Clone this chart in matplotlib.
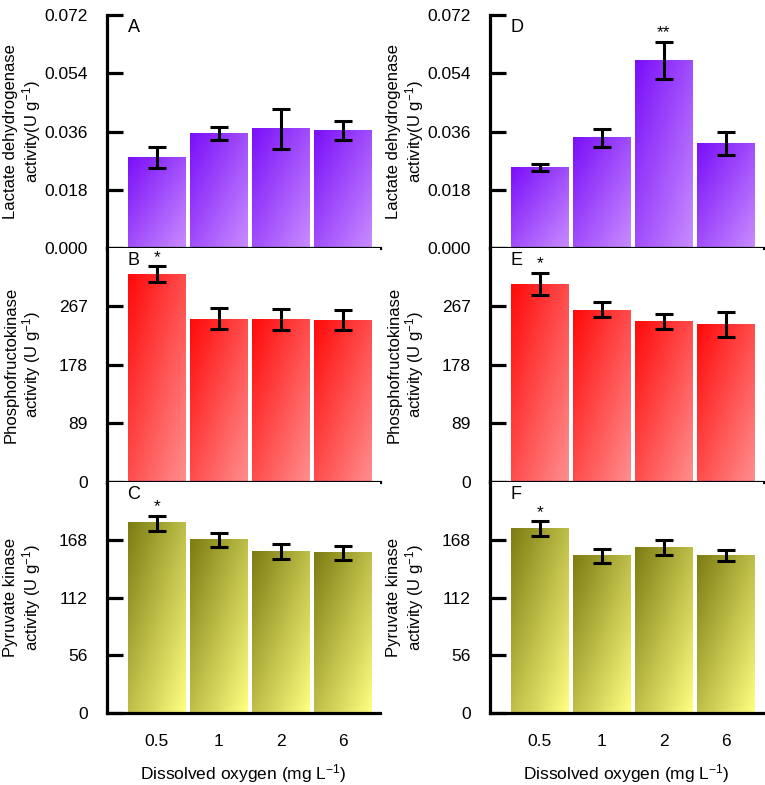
import numpy as np
import matplotlib
matplotlib.use("Agg")
import matplotlib.pyplot as plt
from matplotlib.colors import LinearSegmentedColormap

plt.rcParams['font.family'] = ['Liberation Sans', 'DejaVu Sans']
plt.rcParams['mathtext.fontset'] = 'custom'
plt.rcParams['mathtext.rm'] = 'Liberation Sans'
plt.rcParams['mathtext.it'] = 'Liberation Sans:italic'
plt.rcParams['mathtext.bf'] = 'Liberation Sans:bold'

categories = ["0.5", "1", "2", "6"]

# Lactate dehydrogenase
ldh_left = [0.0280, 0.0354, 0.0368, 0.0362]
ldh_left_err = [0.0032, 0.0021, 0.0063, 0.0029]
ldh_right = [0.0249, 0.0340, 0.0580, 0.0322]
ldh_right_err = [0.0012, 0.0028, 0.0058, 0.0035]

# Phosphofructokinase
pfk_left = [316, 248, 247, 246.5]
pfk_left_err = [12, 16, 16, 15.5]
pfk_right = [301, 262, 244, 240]
pfk_right_err = [17, 11, 11.5, 19]

# Pyruvate kinase
pk_left = [184, 168, 156.5, 155]
pk_left_err = [7.2, 6.7, 6.9, 6.5]
pk_right = [178.5, 152, 160.5, 152.3]
pk_right_err = [7.3, 7, 7, 5.4]

stars_ldh_left = ["", "", "", ""]
stars_ldh_right = ["", "", "**", ""]
stars_pfk_left = ["*", "", "", ""]
stars_pfk_right = ["*", "", "", ""]
stars_pk_left = ["*", "", "", ""]
stars_pk_right = ["*", "", "", ""]

ldh_ticks = [0.000, 0.018, 0.036, 0.054, 0.072]
ldh_ticklabels = ["0.000", "0.018", "0.036", "0.054", "0.072"]
pfk_ticks = [0, 89, 178, 267]
pk_ticks = [0, 56, 112, 168]

purple = LinearSegmentedColormap.from_list("p", ["#7A0FF8", "#C88CFF"])
red = LinearSegmentedColormap.from_list("r", ["#FF0A0A", "#FF8E8E"])
olive = LinearSegmentedColormap.from_list("o", ["#7C7C12", "#FFFF80"])

W, H = 765, 785
fig = plt.figure(figsize=(W / 100, H / 100), dpi=100)

lefts = [107 / W, 490 / W]
aw = 273 / W
rows_px = [(15, 248), (248, 481.7), (481.7, 713.3)]

panels = [
    (0, 0, ldh_left, ldh_left_err, stars_ldh_left, purple, 0.072, ldh_ticks, ldh_ticklabels,
     "Lactate dehydrogenase\nactivity(U g$^{-1}$)", "A"),
    (1, 0, pfk_left, pfk_left_err, stars_pfk_left, red, 356, pfk_ticks, [str(t) for t in pfk_ticks],
     "Phosphofructokinase\nactivity (U g$^{-1}$)", "B"),
    (2, 0, pk_left, pk_left_err, stars_pk_left, olive, 224, pk_ticks, [str(t) for t in pk_ticks],
     "Pyruvate kinase\nactivity (U g$^{-1}$)", "C"),
    (0, 1, ldh_right, ldh_right_err, stars_ldh_right, purple, 0.072, ldh_ticks, ldh_ticklabels,
     "Lactate dehydrogenase\nactivity(U g$^{-1}$)", "D"),
    (1, 1, pfk_right, pfk_right_err, stars_pfk_right, red, 356, pfk_ticks, [str(t) for t in pfk_ticks],
     "Phosphofructokinase\nactivity (U g$^{-1}$)", "E"),
    (2, 1, pk_right, pk_right_err, stars_pk_right, olive, 224, pk_ticks, [str(t) for t in pk_ticks],
     "Pyruvate kinase\nactivity (U g$^{-1}$)", "F"),
]

n = 64
u = np.linspace(0, 1, n)
v = np.linspace(0, 1, n)
U, V = np.meshgrid(u, v)
grad = (U + V) / 2.0

bar_w = 0.92
x = np.arange(len(categories))

for row, col, vals, errs, stars, cmap, ytop, ticks, tlabels, ylabel, letter in panels:
    t, b = rows_px[row]
    ax = fig.add_axes([lefts[col], 1 - b / H, aw, (b - t) / H])
    for xi, val in zip(x, vals):
        ax.imshow(grad, cmap=cmap, origin='upper', aspect='auto',
                  extent=(xi - bar_w / 2, xi + bar_w / 2, 0, val), zorder=1,
                  interpolation='bilinear')
    ax.errorbar(x, vals, yerr=errs, fmt='none', ecolor='black', elinewidth=2.2,
                capsize=6.5, capthick=2.2, zorder=3)
    for xi, val, e, s in zip(x, vals, errs, stars):
        if s:
            ax.annotate(s, (xi, val + e), xytext=(0, 1), textcoords='offset points',
                        ha='center', va='bottom', fontsize=12.5, zorder=4)
    ax.set_xlim(-0.8, 3.6)
    ax.set_ylim(0, ytop)
    ax.set_yticks(ticks)
    ax.set_yticklabels(tlabels)
    ax.set_xticks(x)
    for side in ['top', 'right']:
        ax.spines[side].set_visible(False)
    for side in ['left', 'bottom']:
        ax.spines[side].set_linewidth(2.3)
        ax.spines[side].set_zorder(5)
    ax.tick_params(axis='y', direction='in', length=11.5, width=2.3, labelsize=12.5, pad=14)
    ax.tick_params(axis='x', length=0, labelsize=12.5, pad=15)
    if row == 2:
        ax.set_xticklabels(categories)
        ax.set_xlabel("Dissolved oxygen (mg L$^{-1}$)", fontsize=12.5, labelpad=9)
    else:
        ax.set_xticklabels([])
    ax.set_ylabel(ylabel, fontsize=12, linespacing=1.1)
    ax.yaxis.set_label_coords(-0.235, 0.5)
    ax.text(0.075, 0.945, letter, transform=ax.transAxes, fontsize=13,
            ha='left', va='center', zorder=6)

fig.savefig("out.png", dpi=100)
